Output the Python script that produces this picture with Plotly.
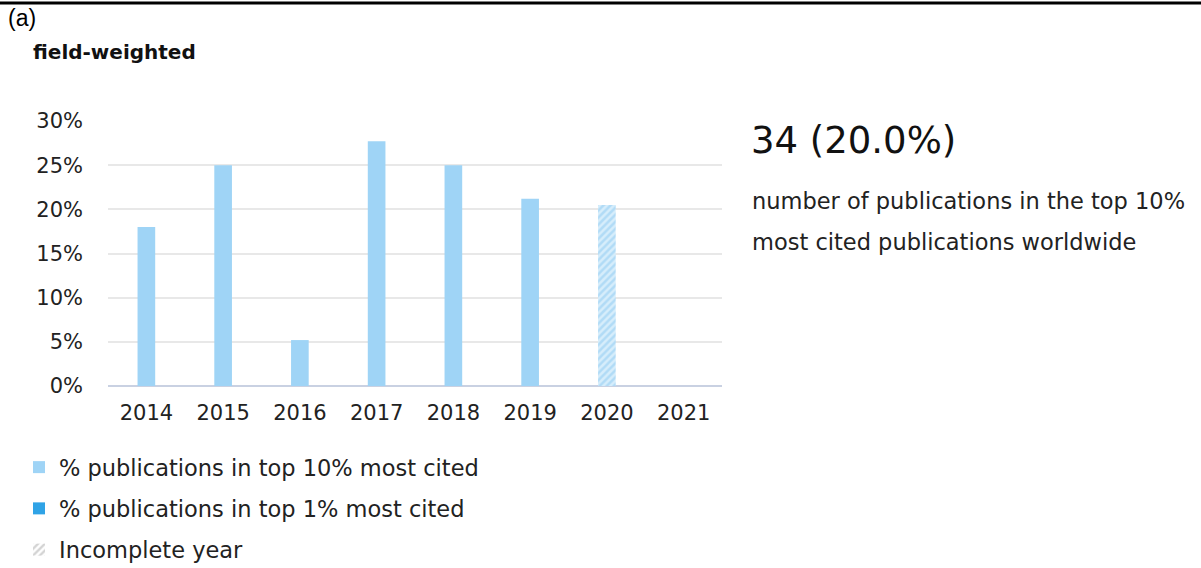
import plotly.graph_objects as go

years = ["2014", "2015", "2016", "2017", "2018", "2019", "2020", "2021"]
top10_pct = [18.0, 25.0, 5.2, 27.7, 25.0, 21.2, None, None]
incomplete_pct = [None, None, None, None, None, None, 20.5, None]
y_ticks = [0, 5, 10, 15, 20, 25, 30]
y_tick_labels = ["0%", "5%", "10%", "15%", "20%", "25%", "30%"]

LIGHT = "#9fd4f6"
DARK = "#2fa3e6"
FONT = "DejaVu Sans"

fig = go.Figure()
fig.add_trace(go.Bar(x=years, y=top10_pct, marker_color=LIGHT, marker_line_width=0,
                     name="% publications in top 10% most cited", legendgroup="a"))
fig.add_trace(go.Bar(x=years, y=[None] * len(years), marker_color=DARK, marker_line_width=0,
                     name="% publications in top 1% most cited", legendgroup="b"))
fig.add_trace(go.Bar(x=years, y=incomplete_pct, showlegend=False,
                     marker=dict(color="#d6edfb", line_width=0,
                                 pattern=dict(shape="/", fgcolor="#8ccaf2", bgcolor="#d6edfb",
                                              size=5, solidity=0.5))))
fig.add_trace(go.Bar(x=years, y=[None] * len(years), name="Incomplete year", legendgroup="c",
                     marker=dict(color="white", line_width=0,
                                 pattern=dict(shape="/", fgcolor="#a8a8a8", bgcolor="white",
                                              size=6, solidity=0.5))))

W, H = 1201, 568
L, R, T, B = 108, 722, 121, 386
pw, ph = R - L, B - T

fig.update_layout(
    width=W, height=H,
    margin=dict(l=L, r=W - R, t=T, b=H - B, autoexpand=False),
    paper_bgcolor="white", plot_bgcolor="white",
    barmode="overlay", bargap=0.77,
    font=dict(family=FONT, size=21, color="#222222"),
    showlegend=True,
    legend=dict(x=-89 / pw, y=-(446 - B) / ph, xanchor="left", yanchor="top",
                orientation="v", tracegroupgap=9, font=dict(size=22.5),
                bgcolor="rgba(0,0,0,0)"),
    xaxis=dict(showgrid=False, showline=False, ticks="", tickfont=dict(size=21),
               ticklabelstandoff=12),
    yaxis=dict(range=[0, 30], tickvals=y_ticks, ticktext=y_tick_labels,
               showgrid=True, gridcolor="#e8e8e8", gridwidth=1.5,
               zeroline=True, zerolinecolor="#c9d1e2", zerolinewidth=2,
               showline=False, ticks="", ticklabelstandoff=24, tickfont=dict(size=21)),
)

fig.add_shape(type="line", xref="paper", yref="paper",
              x0=-L / pw, x1=(W - L) / pw, y0=1 + (T - 3) / ph, y1=1 + (T - 3) / ph,
              line=dict(color="black", width=3))

def px_x(x):
    return (x - L) / pw

def px_y(y):
    return (B - y) / ph

fig.add_annotation(x=px_x(6), y=px_y(18), xref="paper", yref="paper", text="(a)",
                   showarrow=False, xanchor="left", yanchor="middle",
                   font=dict(family="Liberation Sans", size=23, color="black"))
fig.add_annotation(x=px_x(31), y=px_y(52), xref="paper", yref="paper", text="<b>field-weighted</b>",
                   showarrow=False, xanchor="left", yanchor="middle",
                   font=dict(family=FONT, size=20, color="#111111"))
fig.add_annotation(x=px_x(749), y=px_y(140), xref="paper", yref="paper", text="34 (20.0%)",
                   showarrow=False, xanchor="left", yanchor="middle",
                   font=dict(family=FONT, size=37, color="#111111"))
fig.add_annotation(x=px_x(750), y=px_y(201), xref="paper", yref="paper",
                   text="number of publications in the top 10%",
                   showarrow=False, xanchor="left", yanchor="middle",
                   font=dict(family=FONT, size=22.5, color="#222222"))
fig.add_annotation(x=px_x(750), y=px_y(242), xref="paper", yref="paper",
                   text="most cited publications worldwide",
                   showarrow=False, xanchor="left", yanchor="middle",
                   font=dict(family=FONT, size=22.5, color="#222222"))

fig.write_html("out.html", config={"displayModeBar": False},
               post_script="document.body.style.margin='0';document.body.style.padding='0';")
